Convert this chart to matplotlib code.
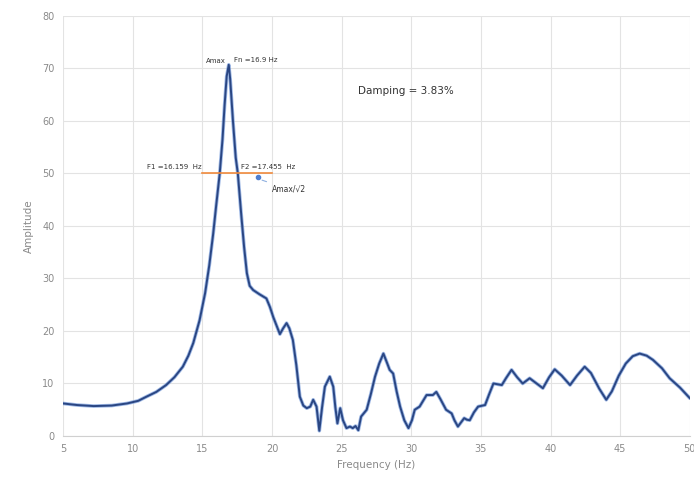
import matplotlib.pyplot as plt

# 측정 주파수 응답 (Hz, 진폭)
freq = [5.0, 6.0, 7.2, 8.5, 9.6, 10.4, 11.0, 11.7, 12.4, 13.0, 13.6, 14.0, 14.35, 14.8,
        15.2, 15.5, 15.78, 16.0, 16.25, 16.45, 16.6, 16.75, 16.9, 17.0, 17.2, 17.4, 17.55,
        17.8, 18.0, 18.2, 18.4, 18.65, 19.1, 19.6, 19.85, 20.1, 20.57, 20.8, 21.05, 21.25,
        21.5, 21.75, 22.0, 22.25, 22.5, 22.75, 22.96, 23.2, 23.4, 23.6, 23.8, 24.15, 24.4,
        24.55, 24.7, 24.9, 25.1, 25.35, 25.6, 25.8, 26.0, 26.2, 26.4, 26.8, 27.1, 27.4,
        27.7, 28.0, 28.25, 28.45, 28.7, 28.95, 29.2, 29.5, 29.8, 30.05, 30.25, 30.6, 31.1,
        31.55, 31.8, 32.1, 32.5, 32.9, 33.1, 33.35, 33.8, 34.0, 34.2, 34.5, 34.8, 35.3,
        35.6, 35.9, 36.5, 36.8, 37.2, 37.6, 38.0, 38.5, 39.0, 39.45, 39.9, 40.3, 40.8,
        41.4, 41.9, 42.45, 42.9, 43.5, 44.0, 44.4, 44.9, 45.4, 45.9, 46.4, 46.9, 47.35,
        48.0, 48.55, 49.3, 50.0]
amp = [6.2, 5.9, 5.7, 5.8, 6.2, 6.7, 7.5, 8.4, 9.7, 11.2, 13.2, 15.3, 17.7, 22.0,
       27.2, 32.5, 38.5, 44.0, 50.0, 56.5, 63.0, 68.5, 70.7, 68.0, 60.0, 53.0, 50.0,
       42.0, 36.0, 31.0, 28.6, 27.8, 27.0, 26.2, 24.6, 22.6, 19.4, 20.5, 21.5, 20.5,
       18.3, 13.5, 7.5, 5.8, 5.3, 5.6, 6.9, 5.6, 1.0, 5.5, 9.4, 11.3, 9.4,
       5.5, 2.4, 5.3, 3.0, 1.5, 1.8, 1.5, 1.9, 1.1, 3.7, 5.0, 8.0, 11.3,
       13.8, 15.7, 14.0, 12.6, 11.9, 8.5, 5.6, 3.0, 1.5, 3.0, 5.0, 5.6, 7.8,
       7.8, 8.4, 7.0, 5.0, 4.3, 3.0, 1.8, 3.4, 3.1, 3.0, 4.5, 5.6, 5.9,
       8.0, 10.0, 9.7, 11.0, 12.6, 11.2, 10.0, 11.0, 10.0, 9.1, 11.2, 12.7, 11.5,
       9.7, 11.5, 13.2, 12.0, 9.0, 6.9, 8.5, 11.5, 13.8, 15.2, 15.7, 15.3, 14.5,
       12.9, 11.0, 9.2, 7.2]

# 반전력 대역폭 결과
a_max = 70.7
f_n = 16.9
f1 = 16.159
f2 = 17.455
half_power = 50.0
damping = 3.83

fig = plt.figure(figsize=(6.94, 4.83), dpi=100)
ax = fig.add_axes([0.0908, 0.0973, 0.9032, 0.8697])

ax.plot(freq, amp, color='#4f7fd0', lw=2.6, alpha=0.55, solid_capstyle='round')
ax.plot(freq, amp, color='#2a4683', lw=1.4)

# 반전력 선
ax.plot([15, 20], [half_power, half_power], color='#f08a3c', lw=1.2)
ax.plot([19.0], [49.3], 'o', color='#4f7fd0', ms=3)
ax.annotate('Amax/√2', xy=(19.1, 48.9), xytext=(20.0, 46.5),
            fontsize=5.5, color='#333333',
            arrowprops=dict(arrowstyle='-', color='#8fb0e0', lw=0.8))

ax.text(11.0, half_power + 0.8, 'F1 =%.3f  Hz' % f1, fontsize=5, color='#333333')
ax.text(17.8, half_power + 0.8, 'F2 =%.3f  Hz' % f2, fontsize=5, color='#333333')
ax.text(16.7, a_max + 0.3, 'Amax', fontsize=5, color='#333333', ha='right')
ax.text(17.3, a_max + 0.6, 'Fn =%.1f Hz' % f_n, fontsize=5, color='#333333')
ax.text(26.2, 65.2, 'Damping = %.2f%%' % damping, fontsize=7.5, color='#333333')

ax.set_xlim(5, 50)
ax.set_ylim(0, 80)
ax.set_xticks(range(5, 51, 5))
ax.set_yticks(range(0, 81, 10))
ax.grid(True, color='#e3e3e3', lw=0.8)
ax.set_axisbelow(True)
for s in ['top', 'right', 'left']:
    ax.spines[s].set_visible(False)
ax.spines['bottom'].set_color('#d0d0d0')
ax.tick_params(length=0, labelsize=7, labelcolor='#8a8a8a', pad=6)
ax.set_xlabel('Frequency (Hz)', fontsize=7.5, color='#8a8a8a', labelpad=4)
ax.set_ylabel('Amplitude', fontsize=7.5, color='#8a8a8a', labelpad=6)

fig.savefig('out.png', dpi=100)
